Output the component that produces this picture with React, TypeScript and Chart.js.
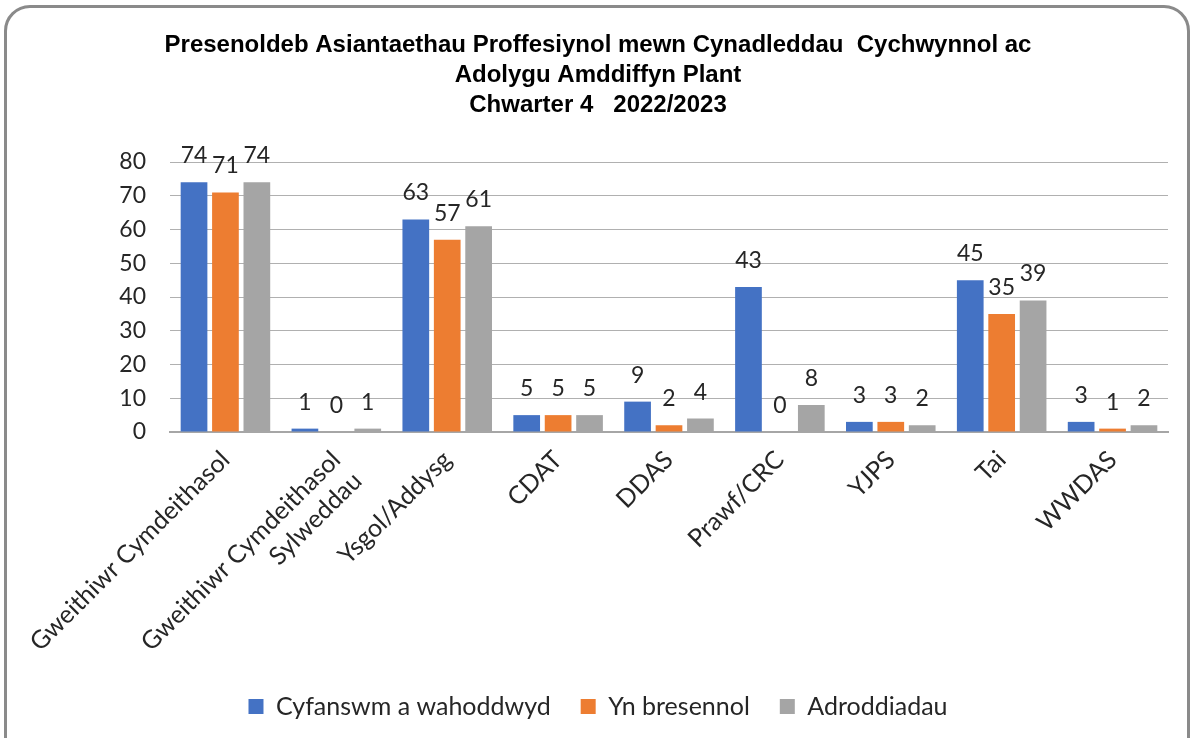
import React, { useEffect, useRef } from 'react';
import { Chart, registerables } from 'chart.js';

Chart.register(...registerables);

const titleLines = [
  'Presenoldeb Asiantaethau Proffesiynol mewn Cynadleddau  Cychwynnol ac',
  'Adolygu Amddiffyn Plant',
  'Chwarter 4   2022/2023',
];
const categories: (string | string[])[] = [
  'Gweithiwr Cymdeithasol',
  ['Gweithiwr Cymdeithasol', 'Sylweddau'],
  'Ysgol/Addysg',
  'CDAT',
  'DDAS',
  'Prawf/CRC',
  'YJPS',
  'Tai',
  'WWDAS',
];
const seriesNames = ['Cyfanswm a wahoddwyd', 'Yn bresennol', 'Adroddiadau'];
const invited = [74, 1, 63, 5, 9, 43, 3, 45, 3];
const attended = [71, 0, 57, 5, 2, 0, 3, 35, 1];
const reports = [74, 1, 61, 5, 4, 8, 2, 39, 2];
const seriesColors = ['#4472C4', '#ED7D31', '#A5A5A5'];
const yMin = 0;
const yMax = 80;
const yStep = 10;

const FONT = 'Lato, "Open Sans", sans-serif';
const TITLE_FONT = '"Liberation Sans", Arial, sans-serif';
const TEXT_COLOR = '#262626';

const barLabels = {
  id: 'barLabels',
  afterDatasetsDraw(chart: any) {
    const ctx = chart.ctx;
    ctx.save();
    ctx.font = `23px ${FONT}`;
    ctx.fillStyle = TEXT_COLOR;
    ctx.textAlign = 'center';
    ctx.textBaseline = 'alphabetic';
    chart.data.datasets.forEach((ds: any, i: number) => {
      const meta = chart.getDatasetMeta(i);
      meta.data.forEach((el: any, j: number) => {
        ctx.fillText(String(ds.data[j]), el.x, el.y - 19);
      });
    });
    ctx.restore();
  },
};

export default function App() {
  const canvasRef = useRef<HTMLCanvasElement | null>(null);

  useEffect(() => {
    if (!canvasRef.current) return;
    const seriesData = [invited, attended, reports];
    const chart = new Chart(canvasRef.current, {
      type: 'bar',
      data: {
        labels: categories as any,
        datasets: seriesNames.map((name, i) => ({
          label: name,
          data: seriesData[i],
          backgroundColor: seriesColors[i],
          borderWidth: 0,
          categoryPercentage: 0.85,
          barPercentage: 0.85,
          yAxisID: 'y',
        })),
      },
      options: {
        responsive: false,
        animation: false,
        layout: { padding: { left: 0, right: 0, top: 0, bottom: 9 } },
        plugins: {
          title: {
            display: true,
            text: titleLines,
            color: '#000000',
            font: { family: TITLE_FONT, size: 24, weight: 'bold', lineHeight: 1.25 },
            padding: { top: 30, bottom: 42 },
          },
          legend: {
            display: true,
            position: 'bottom',
            labels: {
              boxWidth: 15,
              boxHeight: 15,
              padding: 30,
              color: TEXT_COLOR,
              font: { family: FONT, size: 25 },
            },
          },
          tooltip: { enabled: false },
        },
        scales: {
          x: {
            grid: { display: false },
            border: { display: true, color: '#a6a6a6', width: 2 },
            ticks: {
              color: TEXT_COLOR,
              font: { family: FONT, size: 25 },
              maxRotation: 45,
              minRotation: 45,
              autoSkip: false,
              padding: 5,
            },
            afterFit: (axis: any) => {
              axis.height = 232;
            },
          },
          y: {
            position: 'left',
            min: yMin,
            max: yMax,
            grid: { color: '#b0b0b0', lineWidth: 1, drawTicks: false },
            border: { display: false },
            ticks: {
              stepSize: yStep,
              color: TEXT_COLOR,
              font: { family: FONT, size: 23 },
              padding: 24,
            },
            afterFit: (axis: any) => {
              axis.width = 170;
            },
          },
          yRight: {
            axis: 'y',
            type: 'linear',
            position: 'right',
            display: true,
            grid: { display: false, drawTicks: false },
            border: { display: false },
            ticks: { display: false },
            afterFit: (axis: any) => {
              axis.width = 28;
            },
          },
        },
      },
      plugins: [barLabels],
    });
    return () => chart.destroy();
  }, []);

  return (
    <div
      style={{
        position: 'fixed',
        left: 0,
        top: 0,
        width: 1196,
        height: 738,
        overflow: 'hidden',
        background: '#ffffff',
      }}
    >
      <div
        style={{
          position: 'absolute',
          left: 4,
          top: 5,
          width: 1180,
          height: 780,
          border: '3px solid #8a8a8a',
          borderRadius: 26,
          boxSizing: 'content-box',
          background: '#ffffff',
        }}
      />
      <canvas
        ref={canvasRef}
        width={1196}
        height={738}
        style={{ position: 'absolute', left: 0, top: 0, width: 1196, height: 738 }}
      />
    </div>
  );
}
